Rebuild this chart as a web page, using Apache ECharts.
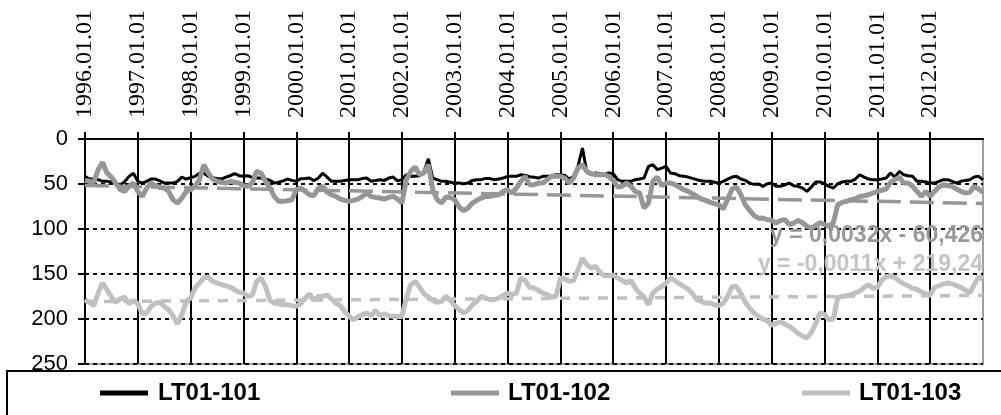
<!DOCTYPE html>
<html>
<head>
<meta charset="utf-8">
<script src="https://cdn.jsdelivr.net/npm/echarts@6/dist/echarts.min.js"></script>
<style>
  html, body { margin: 0; padding: 0; background: #fff; }
  #chart { width: 1001px; height: 415px; }
</style>
</head>
<body>
<div id="chart"></div>
<script>
// Monthly readings, January 1996 through January 2013 (one value per month)
const startYear = 1996;
const endYear = 2013;

const seriesNames = ['LT01-101', 'LT01-102', 'LT01-103'];

const lt101 = [
  41.5, 44.5, 44.5, 45.2, 47, 47, 48, 49, 51, 47.5, 41.5, 38,
  47, 49, 47, 44.5, 44.5, 46.5, 49, 49, 49, 47, 42.3, 44.5,
  43, 41.5, 38, 38, 41.5, 43, 43.8, 44.5, 42.3, 40.8, 38.5, 40.8,
  41.5, 40.8, 42.6, 43.4, 43.4, 44.5, 46, 49, 48, 46.5, 44.5, 46,
  47, 44.1, 44, 43.4, 46.5, 43.4, 38, 42.3, 47, 47, 47, 46,
  45.2, 45.2, 45.2, 44, 43.4, 47, 46, 45.2, 46, 43.4, 42.3, 46.5,
  45.2, 39.7, 41.5, 41.5, 40.8, 36, 22, 43.4, 45.2, 47, 47, 48,
  49, 49, 49.7, 49, 46, 45.2, 45.2, 43.8, 44, 45.2, 44.5, 43.4,
  41.5, 41.5, 41.5, 39.7, 40.4, 42, 42.6, 43.4, 41.5, 41.5, 41.1, 39.7,
  39.7, 40.4, 44.5, 41.5, 30, 10, 37, 39.7, 37.8, 38.5, 39.7, 37.8,
  38.5, 45.2, 47, 47, 47, 45.2, 44.5, 43.4, 30.4, 28.6, 34, 32.3,
  30.4, 37.8, 38.5, 40.8, 41.5, 42.3, 43.8, 45.2, 46.5, 47, 47, 48,
  49, 47, 44.5, 42.3, 41.5, 44.5, 46, 49, 50.4, 50, 52.6, 49.7,
  49, 52.6, 52.6, 50.8, 49, 51.9, 52.6, 54.5, 58.2, 53.4, 47.8, 47.8,
  49.7, 52.6, 54.5, 49.7, 47.8, 47, 47, 44.5, 39.7, 42.3, 44.5, 45.2,
  45.2, 44.5, 43.4, 37.8, 42.3, 36, 39.7, 40.8, 41.5, 47, 47, 47.8,
  49, 49, 47, 45.2, 45.2, 47, 49, 47, 46, 45.2, 42.3, 41.5,
  45.2
];

const lt102 = [
  46, 47, 48, 34, 26, 38, 42.3, 49, 56.3, 58.2, 52.6, 49,
  58.2, 63.8, 54.5, 49, 51.9, 53.8, 54.5, 58.2, 67.5, 71.2, 65.6, 58.2,
  56.3, 52.6, 45.2, 28.6, 37.8, 44.5, 47, 48, 49, 47, 48, 49,
  51.9, 52.6, 49, 36, 37.8, 47, 54.5, 63.8, 69.3, 69.3, 68.6, 67.5,
  56.3, 54.5, 58, 61.9, 63, 54.5, 52.6, 59.3, 61.9, 63.8, 66.7, 68.2,
  69.3, 68.2, 66.7, 63.8, 60, 63.8, 64.9, 65.6, 66.7, 64.9, 63.8, 66.7,
  71.2, 45.2, 36, 31.2, 39.7, 37.8, 28.6, 56.3, 67.5, 71.2, 64.5, 64.9,
  67.5, 75.6, 79.7, 76.7, 71.2, 68.2, 65.6, 63.8, 63.8, 62.6, 61.9, 58.2,
  56.3, 60, 54.5, 47, 41.5, 51, 50.8, 49, 49, 45.2, 41.5, 41.5,
  41.5, 43.4, 49, 43.4, 32.3, 28.6, 36, 38.5, 39.7, 39.7, 39.7, 41.5,
  46, 53.4, 52.6, 49, 52.6, 58.2, 60, 76.7, 71.2, 47, 42.3, 51.9,
  49, 49, 50.8, 53.4, 56.3, 58.2, 60.8, 63.8, 66.7, 68.2, 70.4, 71.9,
  73, 77.8, 66.7, 55.6, 53.4, 61.9, 73, 79.3, 85.2, 88, 87.8, 89.7,
  90.4, 93.4, 90.4, 89.7, 95.2, 93.4, 90.4, 93, 97, 99, 96, 93,
  95, 97, 93, 73, 70.4, 69.3, 67.5, 66.7, 63.8, 63, 61.9, 60,
  58.2, 57.1, 55.6, 48.2, 45.2, 42.3, 49, 49, 52.6, 58.2, 63.8, 58.2,
  63.8, 58.2, 53.4, 50.8, 51.9, 52.6, 55.6, 58.2, 60, 59.3, 52.6, 55.6,
  59.3
];

const lt103 = [
  178.6, 181.5, 185.2, 171.2, 160, 167.5, 175.6, 181.5, 177.8, 175.6, 183, 179.3,
  183, 194.1, 193.4, 186, 182.3, 181.5, 186, 189.7, 196.3, 205.2, 195.2, 180.4,
  176.7, 165.6, 160, 154.5, 153.4, 158.2, 160, 161.9, 163, 164.5, 167.5, 170.4,
  171.2, 174.9, 173.4, 158.2, 154.5, 163.8, 179.3, 182.3, 183, 184.1, 184.1, 185.2,
  186, 183, 177, 172, 179.3, 174.9, 174.9, 173.4, 177.8, 182.3, 185.2, 191.5,
  197.1, 200.8, 197.8, 195.2, 193.4, 196.3, 190.4, 196.3, 194.1, 196.3, 197.1, 197.1,
  197.1, 176.7, 161.9, 158.2, 164.5, 172, 175.6, 179.3, 181.5, 180.4, 174.9, 179.3,
  185.2, 189.7, 193.4, 190.4, 184.1, 180.4, 174.9, 176.7, 178.6, 178.6, 176.7, 174.1,
  171.2, 173, 171.2, 154.5, 157.1, 165, 165.6, 168.2, 171.2, 173, 175.6, 174.9,
  154.5, 155.6, 158.2, 157.1, 145.2, 132.3, 139.7, 143.4, 141.5, 148.2, 151.9, 151.9,
  151.2, 154.5, 157.1, 160, 157.1, 165.6, 171.2, 175.6, 184.1, 171.2, 166.7, 163.8,
  160, 154.5, 157.1, 160.8, 163.8, 166.7, 171.9, 178.6, 180.4, 182.3, 182.3, 184.1,
  185.2, 182.3, 174.9, 163.8, 163.8, 171.9, 181.5, 187.8, 193.4, 197.1, 200, 202,
  207, 205, 203, 206, 208, 212, 216, 219, 221, 215, 205, 193,
  195, 201, 200, 176, 175, 174, 173, 171, 169, 165, 162, 166,
  165, 157, 153, 152, 154, 158, 161, 163, 166, 167, 170, 172,
  173, 165, 163, 161, 160, 161, 163, 165, 168, 171, 162, 153,
  156
];

// Linear trends (x = spreadsheet date serial): [slope, intercept]
const trend102 = [0.0032, -60.426];
const trend103 = [-0.0011, 219.24];

const colors = ['#000000', '#969696', '#c0c0c0'];

// ---- helpers ----
const SERIAL_1996 = 35065;           // date serial of 1996-01-01
function yearToSerial(y) { return SERIAL_1996 + (y - 1996) * 365.25; }
function monthX(i) { return startYear + i / 12; }
function pairs(values) { return values.map((v, i) => [monthX(i), v]); }
function trendPoints(c) {
  return [startYear, endYear].map(y => [y, c[0] * yearToSerial(y) + c[1]]);
}
function fmtNum(n) { return String(n).replace('.', ','); }
function trendLabel(c) {
  const sign = c[1] < 0 ? ' - ' : ' + ';
  return 'y = ' + fmtNum(c[0]) + 'x' + sign + fmtNum(Math.abs(c[1]));
}

const SANS = 'Arial, "Liberation Sans", sans-serif';
const SERIF = '"Times New Roman", "Liberation Serif", serif';

const chart = echarts.init(document.getElementById('chart'), null, { renderer: 'canvas' });

function legendFor(name, left, gap) {
  return {
    data: [name],
    left: left,
    top: 381,
    padding: 0,
    icon: 'rect',
    itemWidth: 48,
    itemHeight: 5,
    textStyle: {
      fontFamily: SANS, fontWeight: 'bold', fontSize: 24, color: '#000',
      padding: [0, 0, 0, gap]
    }
  };
}

const option = {
  animation: false,
  backgroundColor: '#fff',
  color: colors,
  grid: {
    left: 85, right: 18, top: 139, bottom: 51,
    show: true, borderColor: '#808080', borderWidth: 1.5, backgroundColor: 'transparent'
  },
  xAxis: {
    type: 'value',
    position: 'top',
    min: startYear,
    max: endYear,
    interval: 1,
    axisLine: { onZero: false, lineStyle: { color: '#000', width: 2 } },
    axisTick: { show: true, inside: false, length: 7, lineStyle: { color: '#000', width: 2 } },
    axisLabel: {
      rotate: -90,
      margin: 21,
      fontFamily: SERIF,
      fontSize: 24,
      color: '#000',
      showMaxLabel: false,
      formatter: v => (v >= endYear ? '' : v + '.01.01')
    },
    splitLine: { show: true, showMaxLine: false, lineStyle: { color: '#000', width: 2, type: 'solid' } }
  },
  yAxis: {
    type: 'value',
    inverse: true,
    min: 0,
    max: 250,
    interval: 50,
    axisLine: { show: true, lineStyle: { color: '#000', width: 2 } },
    axisTick: { show: true, inside: false, length: 7, lineStyle: { color: '#000', width: 2 } },
    axisLabel: { margin: 17, fontFamily: SANS, fontSize: 22, color: '#000' },
    splitLine: { show: true, showMinLine: false, lineStyle: { color: '#000', width: 2, type: [4, 4] } }
  },
  legend: [
    legendFor(seriesNames[0], 100, 5),
    legendFor(seriesNames[1], 451, 4),
    legendFor(seriesNames[2], 802, 4)
  ],
  series: [
    {
      name: seriesNames[0], type: 'line', data: pairs(lt101),
      showSymbol: false, lineStyle: { color: colors[0], width: 3 }, itemStyle: { color: colors[0] },
      z: 3
    },
    {
      name: seriesNames[1], type: 'line', data: pairs(lt102),
      showSymbol: false, lineStyle: { color: colors[1], width: 5 }, itemStyle: { color: colors[1] },
      z: 4
    },
    {
      name: seriesNames[2], type: 'line', data: pairs(lt103),
      showSymbol: false, lineStyle: { color: colors[2], width: 5 }, itemStyle: { color: colors[2] },
      z: 5
    },
    {
      name: 'trend-102', type: 'line', data: trendPoints(trend102),
      showSymbol: false, silent: true,
      lineStyle: { color: colors[1], width: 3.5, type: [24, 9] },
      z: 6
    },
    {
      name: 'trend-103', type: 'line', data: trendPoints(trend103),
      showSymbol: false, silent: true,
      lineStyle: { color: colors[2], width: 3.5, type: [10, 9] },
      z: 6
    }
  ],
  graphic: [
    {
      type: 'rect', left: 6, top: 370, z: 1, silent: true,
      shape: { width: 1100, height: 100 },
      style: { fill: 'transparent', stroke: '#000', lineWidth: 2 }
    },
    {
      type: 'text', right: 18, top: 224, z: 10, silent: true,
      style: { text: trendLabel(trend102), fill: '#999999', font: 'bold 23px ' + SANS }
    },
    {
      type: 'text', right: 18, top: 253, z: 10, silent: true,
      style: { text: trendLabel(trend103), fill: '#c4c4c4', font: 'bold 23px ' + SANS }
    }
  ]
};

chart.setOption(option);
</script>
</body>
</html>
